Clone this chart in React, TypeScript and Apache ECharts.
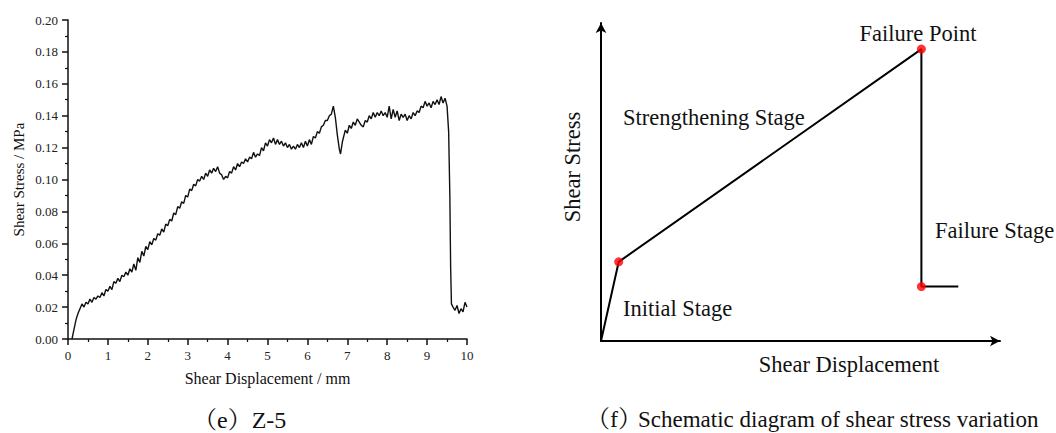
import React, { useEffect, useRef } from "react";
import * as echarts from "echarts";

// Left panel (e) Z-5 : shear displacement (mm) vs shear stress (MPa)
const dispMM: number[] = [
  0.10, 0.15, 0.20, 0.25, 0.30, 0.35, 0.40, 0.45, 0.50, 0.55, 0.60, 0.65, 0.70, 0.75, 0.80, 0.85, 0.90, 0.95,
  1.00, 1.05, 1.10, 1.15, 1.20, 1.25, 1.30, 1.35, 1.40, 1.45, 1.50, 1.55, 1.60, 1.65, 1.70, 1.75, 1.80, 1.85, 1.90, 1.95,
  2.00, 2.05, 2.10, 2.15, 2.20, 2.25, 2.30, 2.35, 2.40, 2.45, 2.50, 2.55, 2.60, 2.65, 2.70, 2.75, 2.80, 2.85, 2.90, 2.95,
  3.00, 3.05, 3.10, 3.15, 3.20, 3.25, 3.30, 3.35, 3.40, 3.45, 3.50, 3.55, 3.60, 3.65, 3.70, 3.75, 3.80, 3.85, 3.90, 3.95,
  4.00, 4.05, 4.10, 4.15, 4.20, 4.25, 4.30, 4.35, 4.40, 4.45, 4.50, 4.55, 4.60, 4.65, 4.70, 4.75, 4.80, 4.85, 4.90, 4.95,
  5.00, 5.05, 5.10, 5.15, 5.20, 5.25, 5.30, 5.35, 5.40, 5.45, 5.50, 5.55, 5.60, 5.65, 5.70, 5.75, 5.80, 5.85, 5.90, 5.95,
  6.00, 6.05, 6.10, 6.15, 6.20, 6.25, 6.30, 6.35, 6.40, 6.45, 6.50, 6.55, 6.60, 6.65, 6.70, 6.75, 6.80, 6.83, 6.88, 6.95,
  7.00, 7.05, 7.10, 7.15, 7.20, 7.25, 7.30, 7.35, 7.40, 7.45, 7.50, 7.55, 7.60, 7.65, 7.70, 7.75, 7.80, 7.85, 7.90, 7.95,
  8.00, 8.05, 8.10, 8.15, 8.20, 8.25, 8.30, 8.35, 8.40, 8.45, 8.50, 8.55, 8.60, 8.65, 8.70, 8.75, 8.80, 8.85, 8.90, 8.95,
  9.00, 9.05, 9.10, 9.15, 9.20, 9.25, 9.30, 9.35, 9.40, 9.45, 9.50, 9.54, 9.57, 9.59, 9.61, 9.65, 9.70, 9.75, 9.80, 9.85,
  9.90, 9.95, 10.00,
];
const stressMPa: number[] = [
  0.000, 0.006, 0.012, 0.016, 0.019, 0.022, 0.020, 0.023, 0.022, 0.025, 0.023, 0.026, 0.025, 0.027, 0.026, 0.029, 0.027, 0.031,
  0.030, 0.033, 0.031, 0.036, 0.035, 0.038, 0.036, 0.040, 0.039, 0.042, 0.040, 0.044, 0.042, 0.047, 0.043, 0.051, 0.048, 0.055, 0.052, 0.058,
  0.056, 0.061, 0.059, 0.063, 0.062, 0.066, 0.065, 0.069, 0.067, 0.072, 0.071, 0.075, 0.074, 0.079, 0.078, 0.083, 0.082, 0.086, 0.085, 0.090,
  0.089, 0.094, 0.093, 0.097, 0.096, 0.100, 0.099, 0.102, 0.100, 0.104, 0.102, 0.106, 0.104, 0.107, 0.105, 0.108, 0.104, 0.103, 0.100, 0.102,
  0.101, 0.105, 0.104, 0.108, 0.106, 0.110, 0.108, 0.111, 0.110, 0.113, 0.111, 0.114, 0.113, 0.117, 0.114, 0.116, 0.115, 0.120, 0.118, 0.123,
  0.121, 0.125, 0.123, 0.126, 0.122, 0.125, 0.122, 0.124, 0.121, 0.123, 0.120, 0.122, 0.119, 0.121, 0.119, 0.122, 0.120, 0.123, 0.120, 0.124,
  0.121, 0.125, 0.122, 0.127, 0.126, 0.130, 0.129, 0.133, 0.134, 0.137, 0.137, 0.140, 0.141, 0.146, 0.139, 0.128, 0.119, 0.116, 0.124, 0.131,
  0.129, 0.134, 0.132, 0.136, 0.134, 0.138, 0.136, 0.134, 0.133, 0.137, 0.136, 0.140, 0.138, 0.142, 0.139, 0.142, 0.140, 0.143, 0.140, 0.142,
  0.139, 0.146, 0.138, 0.144, 0.139, 0.143, 0.137, 0.141, 0.139, 0.141, 0.137, 0.140, 0.138, 0.142, 0.140, 0.143, 0.142, 0.146, 0.145, 0.149,
  0.146, 0.148, 0.145, 0.149, 0.147, 0.150, 0.147, 0.152, 0.148, 0.151, 0.146, 0.130, 0.090, 0.045, 0.022, 0.020, 0.018, 0.021, 0.016, 0.019,
  0.017, 0.023, 0.020,
];
const xTicks: number[] = [0, 1, 2, 3, 4, 5, 6, 7, 8, 9, 10];
const yTicks: string[] = ["0.00", "0.02", "0.04", "0.06", "0.08", "0.10", "0.12", "0.14", "0.16", "0.18", "0.20"];

// Right panel (f) schematic: normalised displacement / stress
const schemeX: number[] = [0, 0.0444, 0.803, 0.803, 0.8955];
const schemeY: number[] = [0, 0.249, 0.918, 0.171, 0.171];
const keyPointIdx: number[] = [1, 2, 3];
const stageLabels: string[] = ["Failure Point", "Strengthening Stage", "Failure Stage", "Initial Stage"];

const SERIF = "'Liberation Serif', 'Times New Roman', serif";
const CJK_SERIF = "'Liberation Serif', 'Noto Serif CJK SC', 'Noto Sans CJK SC', serif";
const LABEL_FONT = `22.5px ${SERIF}`;

export default function App() {
  const ref = useRef<HTMLDivElement>(null);
  useEffect(() => {
    if (!ref.current) return;
    const chart = echarts.init(ref.current, undefined, { renderer: "svg" });
    const curve = dispMM.map((x, i) => [x, stressMPa[i]]);
    const scheme = schemeX.map((x, i) => [x, schemeY[i]]);
    const keyPts = keyPointIdx.map((i) => [schemeX[i], schemeY[i]]);
    const txt = (text: string, x: number, y: number, extra: any = {}) => ({
      type: "text",
      x,
      y,
      style: {
        text,
        fill: "#111",
        font: LABEL_FONT,
        textVerticalAlign: "middle",
        ...extra,
      },
    });
    chart.setOption({
      animation: false,
      backgroundColor: "#fff",
      grid: [
        { left: 68, top: 20, width: 399, height: 319 },
        { left: 601, top: 23, width: 399, height: 318 },
      ],
      xAxis: [
        {
          gridIndex: 0,
          type: "value",
          min: 0,
          max: 10,
          interval: 1,
          name: "Shear Displacement / mm",
          nameLocation: "middle",
          nameGap: 31,
          nameTextStyle: { fontFamily: SERIF, fontSize: 16, color: "#111" },
          axisLine: { show: true, onZero: false, lineStyle: { color: "#111", width: 1.5 } },
          axisTick: { show: true, length: 6, lineStyle: { color: "#111", width: 1.5 } },
          minorTick: { show: true, splitNumber: 2, length: 3, lineStyle: { color: "#111", width: 1.2 } },
          axisLabel: {
            margin: 10,
            fontFamily: SERIF,
            fontSize: 13,
            color: "#222",
            formatter: (v: number) => (xTicks.includes(v) ? String(v) : ""),
          },
          splitLine: { show: false },
        },
        {
          gridIndex: 1,
          type: "value",
          min: 0,
          max: 1,
          axisLine: {
            show: true,
            onZero: false,
            symbol: ["none", "arrow"],
            symbolSize: [8, 10],
            lineStyle: { color: "#000", width: 2 },
          },
          axisTick: { show: false },
          axisLabel: { show: false },
          splitLine: { show: false },
        },
      ],
      yAxis: [
        {
          gridIndex: 0,
          type: "value",
          min: 0,
          max: 0.2,
          interval: 0.02,
          name: "Shear Stress / MPa",
          nameLocation: "middle",
          nameGap: 42,
          nameTextStyle: { fontFamily: SERIF, fontSize: 15, color: "#111" },
          axisLine: { show: true, onZero: false, lineStyle: { color: "#111", width: 1.5 } },
          axisTick: { show: true, length: 6, lineStyle: { color: "#111", width: 1.5 } },
          minorTick: { show: true, splitNumber: 2, length: 3, lineStyle: { color: "#111", width: 1.2 } },
          axisLabel: {
            margin: 10,
            fontFamily: SERIF,
            fontSize: 13,
            color: "#222",
            formatter: (v: number) => {
              const s = v.toFixed(2);
              return yTicks.includes(s) ? s : "";
            },
          },
          splitLine: { show: false },
        },
        {
          gridIndex: 1,
          type: "value",
          min: 0,
          max: 1,
          axisLine: {
            show: true,
            onZero: false,
            symbol: ["none", "arrow"],
            symbolSize: [8, 10],
            lineStyle: { color: "#000", width: 2 },
          },
          axisTick: { show: false },
          axisLabel: { show: false },
          splitLine: { show: false },
        },
      ],
      series: [
        {
          type: "line",
          xAxisIndex: 0,
          yAxisIndex: 0,
          data: curve,
          showSymbol: false,
          lineStyle: { color: "#111", width: 1.4 },
        },
        {
          type: "line",
          xAxisIndex: 1,
          yAxisIndex: 1,
          data: scheme,
          showSymbol: false,
          lineStyle: { color: "#000", width: 2 },
        },
        {
          type: "scatter",
          xAxisIndex: 1,
          yAxisIndex: 1,
          data: keyPts,
          symbolSize: 9,
          itemStyle: { color: "#ff0000" },
          z: 5,
        },
      ],
      graphic: [
        txt(stageLabels[0], 918, 33, { textAlign: "center" }),
        txt(stageLabels[1], 623, 117, { textAlign: "left" }),
        txt(stageLabels[2], 935, 230, { textAlign: "left" }),
        txt(stageLabels[3], 623, 308, { textAlign: "left" }),
        txt("Shear Displacement", 849, 364, { textAlign: "center" }),
        {
          type: "text",
          x: 572,
          y: 167,
          rotation: Math.PI / 2,
          style: {
            text: "Shear Stress",
            fill: "#111",
            font: LABEL_FONT,
            textAlign: "center",
            textVerticalAlign: "middle",
          },
        },
        {
          type: "text",
          x: 193,
          y: 420,
          style: {
            text: "（e）Z-5",
            fill: "#111",
            font: `24px ${CJK_SERIF}`,
            textAlign: "left",
            textVerticalAlign: "middle",
          },
        },
        {
          type: "text",
          x: 586,
          y: 419,
          style: {
            text: "（f）",
            fill: "#111",
            font: `24px ${CJK_SERIF}`,
            textAlign: "left",
            textVerticalAlign: "middle",
          },
        },
        {
          type: "text",
          x: 638,
          y: 419,
          style: {
            text: "Schematic diagram of shear stress variation",
            fill: "#111",
            font: `23px ${SERIF}`,
            textAlign: "left",
            textVerticalAlign: "middle",
          },
        },
      ],
    });
    return () => chart.dispose();
  }, []);
  return (
    <div
      ref={ref}
      style={{ position: "fixed", left: 0, top: 0, width: 1056, height: 433, background: "#fff" }}
    />
  );
}
